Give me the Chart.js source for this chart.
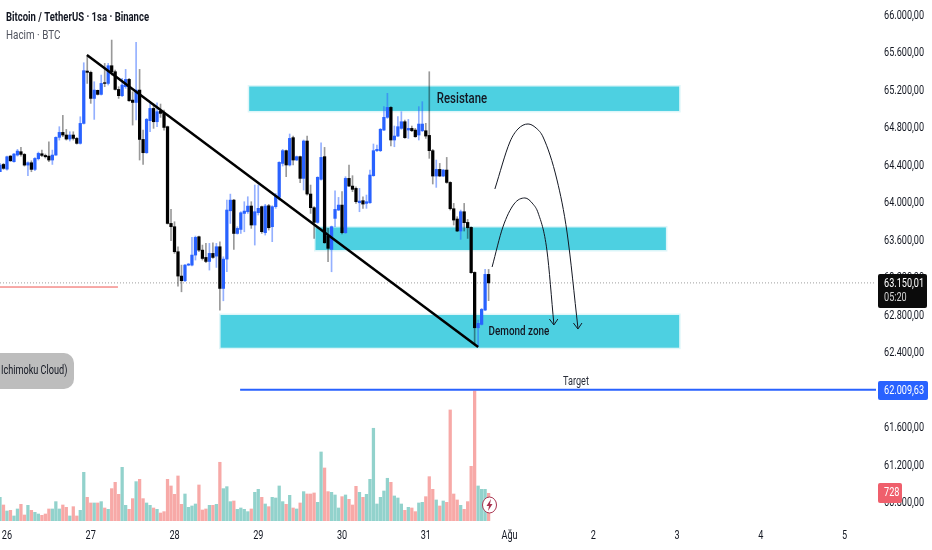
<!DOCTYPE html>
<html>
<head>
<meta charset="utf-8">
<script src="https://cdn.jsdelivr.net/npm/chart.js@4/dist/chart.umd.min.js"></script>
<style>
  html, body { margin: 0; padding: 0; background: #fff; }
  canvas { display: block; }
</style>
</head>
<body>
<canvas id="chart" width="932" height="550"></canvas>
<script>
// hourly BTCUSDT candles, one entry per bar
const opens = [64337,64415,64365,64504,64444,64515,64551,64522,64408,64433,64362,64476,64529,64511,64504,64462,64515,64704,64757,64729,64686,64729,64693,64640,64853,65412,65398,65120,65206,65163,65288,65280,65469,65405,65216,65149,65245,65323,65102,65077,65209,64682,64540,64882,65013,64871,64985,64960,64818,63785,63750,63483,63223,63173,63340,63340,63447,63643,63500,63422,63379,63465,63436,63536,63091,63404,63920,64034,63678,63721,63892,63910,63971,63768,63900,63964,63686,63974,63750,63964,64063,64426,64562,64409,64701,64462,64498,64266,64665,64099,63953,63796,64256,64498,63650,63508,63839,63928,63981,63686,64266,64184,64159,64006,64028,63999,64006,64295,64562,64562,64782,64918,65024,64676,64718,64800,64871,64782,64800,64782,64729,64775,64775,64725,64562,64291,64362,64291,64355,64223,63942,63832,63704,63910,63796,63743,63262,62671,62707,62860,63241];
const highs = [64426,64426,64504,64511,64533,64576,64597,64533,64444,64454,64487,64547,64568,64526,64657,64568,64711,64818,64939,64789,64764,64764,64704,64924,65501,65565,65412,65298,65209,65369,65494,65494,65743,65423,65245,65334,65430,65334,65191,65718,65430,64782,64907,65074,65060,65074,65060,64996,64825,63935,63803,63536,63340,63347,63358,63636,63650,63650,63554,63572,63572,63579,63572,63589,63429,64034,64098,64042,63750,63910,64017,64070,64017,64195,64195,63971,63989,63989,63974,64106,64444,64576,64569,64740,64718,64505,64505,64676,64718,64195,63964,64284,64647,64597,63732,63757,64134,64063,64124,64284,64409,64295,64177,64159,64070,64088,64355,64633,64622,64800,65032,65174,65032,64825,64925,64978,64889,64896,64825,64800,65032,65085,64854,65405,64576,64462,64426,64362,64490,64231,63999,63857,63928,63999,63828,63750,63269,62753,62878,63294,63294];
const lows = [64337,64362,64355,64447,64440,64504,64504,64397,64294,64337,64348,64462,64497,64483,64444,64415,64511,64675,64711,64675,64665,64675,64632,64632,64846,65280,65067,64896,65156,65156,65245,65263,65369,65209,65120,65138,65227,65088,64835,64889,64462,64415,64533,64764,64800,64818,64917,64782,63778,63600,63465,63116,63055,63162,63333,63330,63394,63483,63394,63365,63287,63411,63315,62860,62959,63269,63785,63507,63671,63678,63696,63892,63732,63554,63875,63679,63661,63714,63590,63946,64035,64398,64284,64398,64409,64455,64220,64142,64088,63892,63625,63786,64248,63572,63376,63269,63750,63921,63672,63679,64177,64124,63999,63910,63946,63946,63999,64288,64551,64551,64775,64907,64612,64604,64711,64790,64693,64693,64765,64704,64676,64765,64693,64480,64206,64170,64284,64284,64213,63928,63768,63697,63615,63704,63625,63252,62486,62468,62700,62853,62960];
const closes = [64408,64373,64497,64454,64526,64558,64522,64408,64433,64362,64479,64533,64511,64497,64462,64515,64704,64757,64729,64686,64729,64693,64640,64853,65416,65398,65120,65209,65163,65280,65280,65469,65405,65216,65149,65263,65323,65095,65077,65209,64682,64540,64896,65013,64871,64978,64960,64810,63785,63750,63483,63223,63173,63340,63351,63447,63636,63500,63411,63379,63465,63422,63536,63091,63404,63928,64034,63678,63732,63899,63917,63970,63768,63910,63946,63697,63971,63739,63964,64078,64437,64562,64409,64693,64462,64498,64266,64665,64099,63953,63796,64277,64490,63579,63519,63750,63935,63981,63686,64266,64184,64149,64017,64024,63992,64017,64302,64562,64576,64790,64918,65024,64676,64718,64818,64871,64701,64800,64775,64711,64846,64846,64718,64562,64291,64362,64291,64355,64223,63942,63821,63704,63910,63793,63739,63259,62671,62718,62867,63241,63150.01];
const volumes = [623,421,263,281,132,316,439,158,412,281,228,184,149,184,316,316,509,316,421,360,132,377,132,281,1280,623,474,474,474,509,342,307,851,1017,702,1412,412,307,588,1035,1096,588,474,412,342,307,210,246,1096,921,702,1184,439,710,360,395,447,947,289,316,412,412,439,1544,851,903,509,526,307,342,307,246,316,754,833,623,447,377,623,605,921,509,439,675,342,316,474,772,710,710,737,491,1815,1394,772,754,684,342,640,684,570,421,912,754,623,702,1096,2438,447,623,789,1123,1017,658,605,447,281,360,342,246,474,491,640,1166,833,553,395,526,491,2920,710,553,412,307,509,1438,3420,921,833,833,728];

// axis text
const dayLabels = ['26','27','28','29','30','31','Ağu','2','3','4','5'];
const priceTicks = [66000,65600,65200,64800,64400,64000,63600,63200,62800,62400,61600,61200,60800];
const slotCount = 252;      // bars + empty future slots on the time axis
const firstDayBar = 2;
const barsPerDay = 24;

// drawn zones, in bar index / price
const zoneNames = ['Resistane', '', 'Demond zone'];
const zoneStarts = [71.4, 90.4, 63.2];
const zoneEnds = [194.6, 190.8, 194.6];
const zoneTops = [65247, 63742, 62807];
const zoneBottoms = [64986, 63501, 62458];

// drawings, as [bar index, price]
const trendLine = [[24.9, 65584], [137, 62466]];
const arcHigh = [[141.8,64153],[146.1,64655],[148.4,64793],[151.3,64847],[153.6,64804],[155.6,64708],[159.6,64249],[162.5,63683],[165.6,62668]];
const arcLow = [[141,63320],[144.1,63747],[147.3,63993],[150.4,64057],[152.7,63993],[154.2,63896],[156.7,63501],[158.7,62711]];
const targetPrice = 62009.63;
const lastPrice = 63150.01;
const redLine = [[0, 63106], [33.8, 63106]];
const targetStart = 68.8;

const FONT = 'Roboto, "Liberation Sans", sans-serif';
const TEXT_SQUEEZE = 0.76;  // the picture's labels are narrower than any installed font
const UP = '#2962ff', DOWN = '#000000';
const labels = Array.from({ length: slotCount }, (_, i) => {
  const k = (i - firstDayBar) / barsPerDay;
  return Number.isInteger(k) && dayLabels[k] ? dayLabels[k] : '';
});
const isUp = opens.map((o, i) => closes[i] >= o);
const toXY = pts => pts.map(p => ({ x: p[0], y: p[1] }));

function fmt(v) {
  return v.toLocaleString('tr-TR', { minimumFractionDigits: 2, maximumFractionDigits: 2 });
}

function lineSet(points, color, width, extra) {
  return Object.assign({
    type: 'line', data: toXY(points), xAxisID: 'xn', yAxisID: 'y',
    borderColor: color, borderWidth: width, pointRadius: 0, fill: false, order: 1
  }, extra);
}

function roundBox(ctx, x, y, w, h, r, fill) {
  ctx.fillStyle = fill;
  ctx.beginPath();
  ctx.roundRect(x, y, w, h, r);
  ctx.fill();
}

const squeezePlugin = {
  id: 'squeeze',
  beforeInit(chart) {
    const ctx = chart.ctx, fill = ctx.fillText.bind(ctx);
    ctx.fillText = (t, x, y) => fill(t, x, y, ctx.measureText(t).width * TEXT_SQUEEZE);
  }
};

const zonesPlugin = {
  id: 'zones',
  beforeDatasetsDraw(chart) {
    const { ctx, scales: { xn, y } } = chart;
    ctx.save();
    zoneStarts.forEach((s, i) => {
      const x0 = xn.getPixelForValue(s), x1 = xn.getPixelForValue(zoneEnds[i]);
      const y0 = y.getPixelForValue(zoneTops[i]), y1 = y.getPixelForValue(zoneBottoms[i]);
      ctx.fillStyle = '#def6f9';
      ctx.fillRect(x0 - 1.5, y0 - 1.5, x1 - x0 + 3, y1 - y0 + 3);
      ctx.fillStyle = '#4dd0e1';
      ctx.fillRect(x0, y0, x1 - x0, y1 - y0);
    });
    ctx.restore();
  }
};

const labelsPlugin = {
  id: 'overlayLabels',
  afterDraw(chart) {
    const { ctx, scales: { xn, y } } = chart;
    ctx.save();
    ctx.textBaseline = 'middle';

    // zone captions
    ctx.fillStyle = '#131722';
    ctx.textAlign = 'center';
    ctx.font = '500 15px ' + FONT;
    ctx.fillText(zoneNames[0], 462, 99);
    ctx.font = '500 13px ' + FONT;
    ctx.fillText(zoneNames[2], 519, 332);
    ctx.font = '12px ' + FONT;
    ctx.fillStyle = '#2a2e39';
    ctx.fillText('Target', 576, 382);

    // arrow heads on the arcs
    ctx.strokeStyle = '#131722';
    ctx.lineWidth = 1;
    [arcHigh, arcLow].forEach(arc => {
      const e = arc[arc.length - 1];
      const ex = xn.getPixelForValue(e[0]), ey = y.getPixelForValue(e[1]);
      ctx.beginPath();
      ctx.moveTo(ex - 4.5, ey - 5);
      ctx.lineTo(ex, ey + 1);
      ctx.lineTo(ex + 4, ey - 5);
      ctx.stroke();
    });

    // header
    ctx.textAlign = 'left';
    ctx.fillStyle = '#131722';
    ctx.font = 'bold 12.5px ' + FONT;
    ctx.fillText('Bitcoin / TetherUS · 1sa · Binance', 6, 18);
    ctx.fillStyle = '#50535e';
    ctx.font = '13px ' + FONT;
    ctx.fillText('Hacim · BTC', 6, 36);

    // indicator pill, cut off by the left edge
    roundBox(ctx, -20, 353, 94, 36, 10, '#bdbdbd');
    ctx.fillStyle = '#131722';
    ctx.font = '12px ' + FONT;
    ctx.fillText('Ichimoku Cloud)', 1, 371);

    // lightning badge
    ctx.beginPath();
    ctx.ellipse(489.5, 505, 7, 8, 0, 0, Math.PI * 2);
    ctx.fillStyle = '#fff';
    ctx.fill();
    ctx.strokeStyle = '#a8324f';
    ctx.lineWidth = 1;
    ctx.stroke();
    ctx.fillStyle = '#a8324f';
    ctx.beginPath();
    ctx.moveTo(491, 499);
    ctx.lineTo(486.5, 506);
    ctx.lineTo(489, 506);
    ctx.lineTo(488, 511);
    ctx.lineTo(492.5, 504);
    ctx.lineTo(490, 504);
    ctx.closePath();
    ctx.fill();

    // price axis badges
    ctx.font = '12px ' + FONT;
    roundBox(ctx, 878, 274, 49, 34, 2, '#0b0b0b');
    ctx.fillStyle = '#fff';
    ctx.fillText(fmt(lastPrice), 884, 284);
    ctx.fillStyle = '#d6d6d6';
    ctx.fillText('05:20', 884, 298);
    roundBox(ctx, 878, 381, 50, 19, 2, UP);
    ctx.fillStyle = '#fff';
    ctx.fillText(fmt(targetPrice), 884, 391);
    roundBox(ctx, 878, 483, 24, 20, 2, '#ef5f6c');
    ctx.fillStyle = '#fff';
    ctx.fillText(String(volumes[volumes.length - 1]), 884, 493);
    ctx.restore();
  }
};

new Chart(document.getElementById('chart'), {
  data: {
    labels: labels,
    datasets: [
      lineSet(trendLine, '#000', 2.5, { order: 0 }),
      lineSet(arcHigh, '#131722', 1, { cubicInterpolationMode: 'monotone' }),
      lineSet(arcLow, '#131722', 1, { cubicInterpolationMode: 'monotone' }),
      lineSet([[targetStart, targetPrice], [slotCount - 1, targetPrice]], UP, 2),
      lineSet(redLine, '#ef5350', 1),
      lineSet([[0, lastPrice], [slotCount - 1, lastPrice]], '#9e9e9e', 1, { borderDash: [1, 2], order: 6 }),
      {
        type: 'bar', data: opens.map((o, i) => [o, closes[i]]), yAxisID: 'y', xAxisID: 'x',
        backgroundColor: isUp.map(u => u ? UP : DOWN), barThickness: 2.6, grouped: false, order: 2
      },
      {
        type: 'bar', data: lows.map((l, i) => [l, highs[i]]), yAxisID: 'y', xAxisID: 'x',
        backgroundColor: isUp.map(u => u ? 'rgba(41,98,255,0.5)' : 'rgba(0,0,0,0.4)'), barThickness: 1, grouped: false, order: 3
      },
      {
        type: 'bar', data: volumes, yAxisID: 'yVol', xAxisID: 'x',
        backgroundColor: isUp.map(u => u ? 'rgba(38,166,154,0.5)' : 'rgba(239,83,80,0.5)'), barThickness: 2.6, grouped: false, order: 5
      }
    ]
  },
  options: {
    responsive: false,
    animation: false,
    layout: { padding: 0 },
    plugins: { legend: { display: false }, tooltip: { enabled: false } },
    scales: {
      x: {
        offset: false,
        grid: { display: false, drawTicks: false },
        border: { display: false },
        afterFit: s => { s.height = 29; s.paddingLeft = 0; s.paddingRight = 0; },
        ticks: {
          autoSkip: false, maxRotation: 0, minRotation: 0, padding: 8,
          color: '#131722', font: { family: FONT, size: 12 },
          callback: function (v) { return this.getLabelForValue(v); }
        }
      },
      xn: { type: 'linear', display: false, min: 0, max: slotCount - 1 },
      y: {
        position: 'right', min: 60607.6, max: 66170.8,
        grid: { display: false, drawTicks: false },
        border: { display: false },
        afterFit: s => { s.width = 56; s.paddingTop = 0; s.paddingBottom = 0; },
        afterBuildTicks: s => { s.ticks = priceTicks.map(v => ({ value: v })); },
        ticks: { padding: 8, color: '#131722', font: { family: FONT, size: 12 }, callback: v => fmt(v) }
      },
      yVol: { display: false, min: 0, max: 13700 }
    }
  },
  plugins: [squeezePlugin, zonesPlugin, labelsPlugin]
});
</script>
</body>
</html>
